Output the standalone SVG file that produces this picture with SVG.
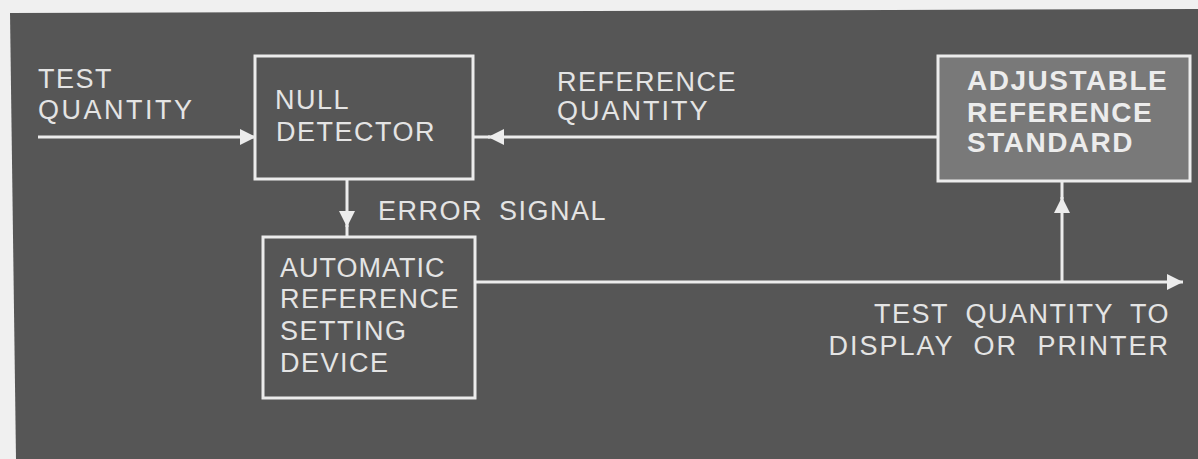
<svg xmlns="http://www.w3.org/2000/svg" width="1198" height="459" viewBox="0 0 1198 459">
<style>
.lbl{font-family:"Liberation Sans",Arial,sans-serif;font-size:27px;fill:#e4e4e4;letter-spacing:1.5px;word-spacing:7px}
.bold{font-weight:bold;font-size:28px;fill:#ececec}
.box{fill:none;stroke:#ececec;stroke-width:3}
.con{fill:none;stroke:#ececec;stroke-width:3}
</style>
<defs>
<marker id="ah" viewBox="0 0 10 10" refX="10" refY="5" markerUnits="userSpaceOnUse" markerWidth="18" markerHeight="16" orient="auto">
<path d="M0,0 L10,5 L0,10 z" fill="#ececec"/>
</marker>
</defs>
<rect x="0" y="0" width="1198" height="459" fill="#f0f0f0"/>
<polygon points="10,13 1198,9 1198,459 16,459" fill="#565656"/>

<text class="lbl" x="38" y="88">TEST</text>
<text class="lbl" x="38" y="119" style="letter-spacing:2.5px">QUANTITY</text>
<text class="lbl" x="557" y="91">REFERENCE</text>
<text class="lbl" x="557" y="120" style="letter-spacing:2px">QUANTITY</text>
<text class="lbl" x="378" y="220">ERROR SIGNAL</text>
<text class="lbl" x="1170" y="323" text-anchor="end" style="word-spacing:8px">TEST QUANTITY TO</text>
<text class="lbl" x="1170" y="355" text-anchor="end" style="letter-spacing:2px;word-spacing:10px">DISPLAY OR PRINTER</text>

<g id="null-detector">
<rect class="box" x="255" y="56" width="218" height="123"/>
<text class="lbl" x="275" y="109">NULL</text>
<text class="lbl" x="276" y="141">DETECTOR</text>
</g>
<g id="auto-ref">
<rect class="box" x="263" y="237" width="212" height="161"/>
<text class="lbl" x="280" y="277" style="letter-spacing:1px">AUTOMATIC</text>
<text class="lbl" x="280" y="308">REFERENCE</text>
<text class="lbl" x="280" y="340">SETTING</text>
<text class="lbl" x="280" y="372">DEVICE</text>
</g>
<g id="adj-ref">
<rect class="box" x="938" y="56" width="252" height="125" style="fill:#797979"/>
<text class="lbl bold" x="967" y="90">ADJUSTABLE</text>
<text class="lbl bold" x="967" y="122">REFERENCE</text>
<text class="lbl bold" x="967" y="152">STANDARD</text>
</g>

<g id="connectors">
<path class="con" d="M38,137 H256" marker-end="url(#ah)"/>
<path class="con" d="M938,137 H488" marker-end="url(#ah)"/>
<path class="con" d="M490,137 H473"/>
<path class="con" d="M347,179 V227" marker-end="url(#ah)"/>
<path class="con" d="M347,225 V237"/>
<path class="con" d="M475,282 H1183" marker-end="url(#ah)"/>
<path class="con" d="M1062,282 V197" marker-end="url(#ah)"/>
<path class="con" d="M1062,199 V181"/>
</g>
</svg>
